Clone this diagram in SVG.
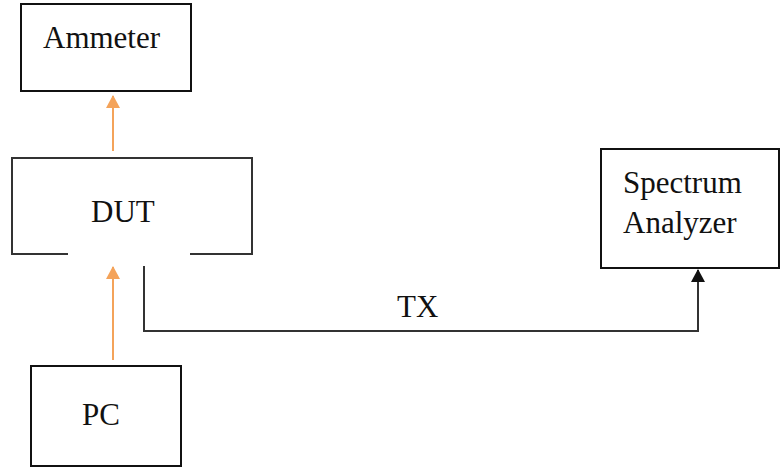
<svg xmlns="http://www.w3.org/2000/svg" width="781" height="468" viewBox="0 0 781 468">
<style>
.box{fill:#fff;stroke:#111;stroke-width:2}
.lbl{font-family:"Liberation Serif","Times New Roman",serif;fill:#111;font-size:31px}
.or{stroke:#f4a35a;stroke-width:2;fill:none}
.bk{stroke:#333;stroke-width:2;fill:none}
</style>
<defs>
<marker id="ao" markerWidth="13" markerHeight="14" refX="12" refY="7" orient="auto" markerUnits="userSpaceOnUse"><path d="M0,0 L13,7 L0,14 Z" fill="#f4a35a"/></marker>
<marker id="ab" markerWidth="13" markerHeight="14" refX="12" refY="7" orient="auto" markerUnits="userSpaceOnUse"><path d="M0,0 L13,7 L0,14 Z" fill="#111"/></marker>
</defs>
<rect width="781" height="468" fill="#fff"/>
<g id="ammeter">
<rect class="box" x="21" y="4" width="170" height="87"/>
<text class="lbl" x="43" y="48">Ammeter</text>
</g>
<g id="dut">
<path class="bk" d="M68,254 H12 V158 H252 V254 H190"/>
<text class="lbl" x="91" y="222">DUT</text>
</g>
<g id="pc">
<rect class="box" x="31" y="366" width="150" height="100" stroke="#333"/>
<text class="lbl" x="82" y="425">PC</text>
</g>
<g id="spectrum">
<rect class="box" x="601" y="149" width="178" height="119"/>
<text class="lbl" x="623" y="193">Spectrum</text>
<text class="lbl" x="623" y="233">Analyzer</text>
</g>
<g id="connectors">
<line class="or" x1="113" y1="151" x2="113" y2="96" marker-end="url(#ao)"/>
<line class="or" x1="113" y1="360" x2="113" y2="267" marker-end="url(#ao)"/>
<path class="bk" d="M144,266 V331 H698 V270" marker-end="url(#ab)"/>
<text class="lbl" x="397" y="317">TX</text>
</g>
</svg>
